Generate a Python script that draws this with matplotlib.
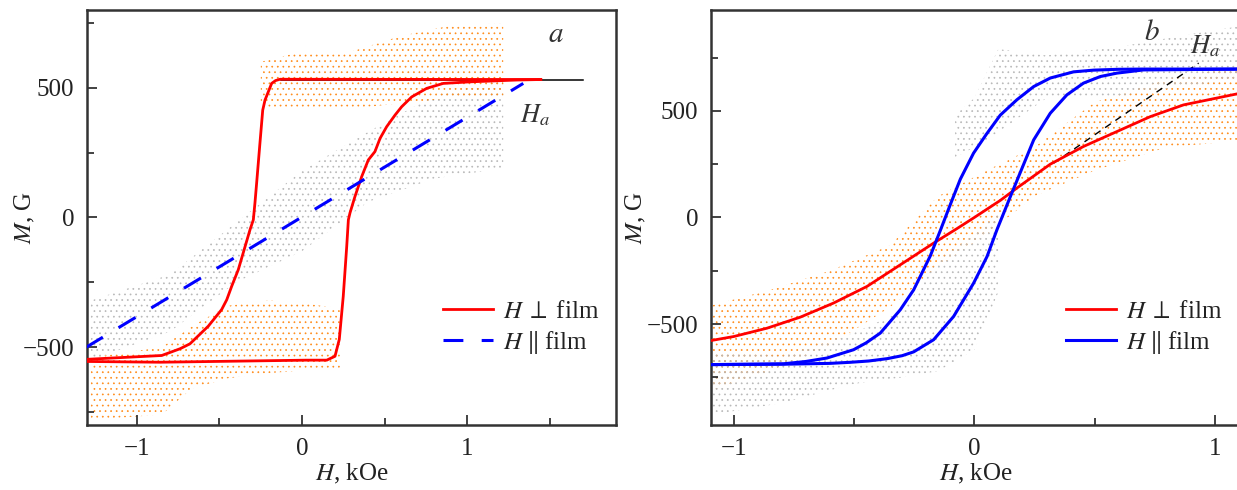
import matplotlib.pyplot as plt

plt.rcParams['font.family'] = ['Liberation Serif', 'DejaVu Serif']
plt.rcParams['mathtext.fontset'] = 'stix'
plt.rcParams['hatch.linewidth'] = 0.5

# ---- panel a: film, H perpendicular / parallel ----
a_perp_down_h = [1.447, -0.133, -0.16, -0.184, -0.224, -0.238, -0.255, -0.275, -0.285, -0.295,
                 -0.315, -0.345, -0.386, -0.426, -0.456, -0.487, -0.568, -0.679, -0.739, -0.850, -1.31]
a_perp_down_m = [532, 533, 528, 517, 453, 414, 286, 132, 57, -9,
                 -47, -112, -201, -265, -317, -355, -419, -487, -506, -532, -547]
a_perp_up_h = [-1.31, -0.861, 0.028, 0.150, 0.200, 0.226, 0.250, 0.271, 0.281, 0.291, 0.321, 0.362,
               0.402, 0.442, 0.473, 0.513, 0.564, 0.604, 0.665, 0.756, 0.856, 1.018, 1.301, 1.447]
a_perp_up_m = [-555, -558, -550, -550, -535, -470, -304, -112, -9, 18, 81, 158,
               222, 254, 305, 350, 395, 427, 465, 498, 517, 523, 530, 532]
a_par_h = [-1.31, 1.341]
a_par_m = [-501, 517]
a_sat_h = [-0.13, 1.70]
a_sat_m = [532, 532]

# scatter clouds (envelopes)
a_or_top_h = [-0.25, 0.0, 0.3, 0.6, 0.9, 1.22]
a_or_top_lo = [420, 420, 420, 440, 460, 470]
a_or_top_hi = [600, 640, 640, 700, 740, 750]
a_or_bot_h = [-1.28, -0.85, -0.67, -0.45, -0.2, 0.0, 0.23]
a_or_bot_lo = [-780, -760, -660, -620, -600, -590, -580]
a_or_bot_hi = [-540, -500, -420, -340, -320, -330, -350]
a_gr_h = [-1.28, -0.8, -0.4, 0.0, 0.4, 0.8, 1.22]
a_gr_lo = [-550, -440, -250, -130, 60, 150, 190]
a_gr_hi = [-320, -220, -20, 180, 330, 470, 530]

# ---- panel b ----
b_par_down_h = [1.12, 0.70, 0.60, 0.496, 0.413, 0.316, 0.247, 0.177, 0.108, 0.05, -0.003, -0.058,
                -0.10, -0.141, -0.183, -0.252, -0.308, -0.391, -0.45, -0.502, -0.613, -0.70, -0.793, -1.12]
b_par_down_m = [696, 696, 695, 691, 683, 654, 614, 552, 480, 390, 302, 180,
                60, -60, -180, -339, -433, -542, -588, -620, -659, -675, -686, -690]
b_par_up_h = [-1.12, -0.793, -0.70, -0.60, -0.516, -0.44, -0.363, -0.30, -0.252, -0.169, -0.086,
              -0.003, 0.053, 0.094, 0.15, 0.247, 0.316, 0.385, 0.454, 0.524, 0.593, 0.704, 1.12]
b_par_up_m = [-690, -688, -686, -684, -679, -673, -662, -648, -630, -573, -464,
              -308, -183, -58, 98, 364, 489, 575, 630, 661, 677, 692, 696]
b_perp_h = [-1.12, -1.00, -0.862, -0.723, -0.585, -0.446, -0.308, -0.169, -0.072, 0.0,
            0.108, 0.177, 0.316, 0.454, 0.593, 0.732, 0.870, 1.12]
b_perp_m = [-582, -558, -519, -467, -401, -323, -222, -120, -52, 0,
            80, 138, 250, 333, 403, 473, 528, 586]
b_ha_h = [0.33, 0.933]
b_ha_m = [255, 724]

b_or_h = [-1.12, -0.85, -0.6, -0.35, -0.15, 0.05, 0.25, 0.5, 0.8, 1.12]
b_or_lo = [-820, -720, -600, -420, -230, -80, 100, 220, 330, 360]
b_or_hi = [-420, -340, -250, -130, 100, 220, 330, 540, 650, 710]
b_gr_top_h = [-0.08, 0.0, 0.1, 0.3, 0.6, 0.9, 1.12]
b_gr_top_lo = [280, 330, 400, 560, 570, 620, 650]
b_gr_top_hi = [480, 560, 790, 760, 800, 860, 900]
b_gr_bot_h = [-1.12, -0.8, -0.5, -0.3, -0.15, 0.0, 0.1]
b_gr_bot_lo = [-930, -870, -780, -750, -720, -620, -350]
b_gr_bot_hi = [-630, -650, -540, -440, -200, -80, 20]

ORANGE = '#ff8c1a'
GRAY = '#b8b8b8'
TXT = '#222222'
W, H = 1237, 490

fig = plt.figure(figsize=(W / 100, H / 100), dpi=100)
ax_a = fig.add_axes([87 / W, 65 / H, 529 / W, 415 / H])
ax_b = fig.add_axes([711 / W, 65 / H, 529 / W, 415 / H])


def cloud(ax, h, lo, hi, color):
    ax.fill_between(h, lo, hi, facecolor='none', edgecolor=color,
                    hatch='...', linewidth=0, zorder=1)


def style(ax, xminor, ylab_x):
    for s in ax.spines.values():
        s.set_linewidth(1.8)
        s.set_color('#333333')
    ax.set_xticks([-1, 0, 1])
    ax.set_xticklabels(['\u22121', '0', '1'])
    ax.set_xticks(xminor, minor=True)
    ax.set_yticks([-500, 0, 500])
    ax.set_yticklabels(['\u2212500', '0', '500'])
    ax.set_yticks([-750, -250, 250, 750], minor=True)
    ax.tick_params(which='both', direction='in', top=False, right=False,
                   width=1.2, color='#222222', labelsize=18, labelcolor=TXT)
    ax.tick_params(which='major', length=7, pad=9)
    ax.tick_params(which='minor', length=5)
    ax.set_xlabel('$H$, kOe', fontsize=18, color=TXT, labelpad=2)
    ax.set_ylabel('$M$, G', fontsize=18, color=TXT)
    ax.yaxis.set_label_coords(ylab_x, 0.5)


LEG = dict(loc='upper left', frameon=False, fontsize=18, handlelength=2.0,
           handletextpad=0.4, labelspacing=0.25, borderpad=0, borderaxespad=0,
           labelcolor=TXT)

# panel a
cloud(ax_a, a_gr_h, a_gr_lo, a_gr_hi, GRAY)
cloud(ax_a, a_or_top_h, a_or_top_lo, a_or_top_hi, ORANGE)
cloud(ax_a, a_or_bot_h, a_or_bot_lo, a_or_bot_hi, ORANGE)
ax_a.plot(a_sat_h, a_sat_m, color='black', lw=1.1, zorder=2)
ax_a.plot(a_perp_down_h, a_perp_down_m, color='#ff0000', lw=2.0, zorder=3,
          label='$H\\;\\perp\\;$film')
ax_a.plot(a_perp_up_h, a_perp_up_m, color='#ff0000', lw=2.0, zorder=3)
ax_a.plot(a_par_h, a_par_m, color='#0000ff', lw=2.2, dashes=(6.5, 6), zorder=3,
          label='$H\\;\\|\\;$film')
ax_a.set_xlim(-1.303, 1.903)
ax_a.set_ylim(-800, 800)
style(ax_a, [-0.5, 0.5, 1.5], -0.095)
ax_a.text(1.54, 703, '$a$', fontsize=21, color='#333333', ha='center', va='center')
ax_a.text(1.41, 395, '$H_a$', fontsize=19, color='#333333', ha='center', va='center')
ax_a.legend(bbox_to_anchor=(0.673, 0.30), **LEG)

# panel b
cloud(ax_b, b_or_h, b_or_lo, b_or_hi, ORANGE)
cloud(ax_b, b_gr_top_h, b_gr_top_lo, b_gr_top_hi, GRAY)
cloud(ax_b, b_gr_bot_h, b_gr_bot_lo, b_gr_bot_hi, GRAY)
ax_b.plot(b_ha_h, b_ha_m, color='black', lw=1.0, dashes=(5, 4), zorder=2)
ax_b.plot(b_perp_h, b_perp_m, color='#ff0000', lw=2.0, zorder=3,
          label='$H\\;\\perp\\;$film')
ax_b.plot(b_par_down_h, b_par_down_m, color='#0000ff', lw=2.2, zorder=3,
          label='$H\\;\\|\\;$film')
ax_b.plot(b_par_up_h, b_par_up_m, color='#0000ff', lw=2.2, zorder=3)
ax_b.set_xlim(-1.095, 1.105)
ax_b.set_ylim(-973, 973)
style(ax_b, [-0.5, 0.5], -0.12)
ax_b.text(0.74, 866, '$b$', fontsize=21, color='#333333', ha='center', va='center')
ax_b.text(0.96, 805, '$H_a$', fontsize=19, color='#333333', ha='center', va='center')
ax_b.legend(bbox_to_anchor=(0.671, 0.30), **LEG)

fig.savefig('out.png', dpi=100)
